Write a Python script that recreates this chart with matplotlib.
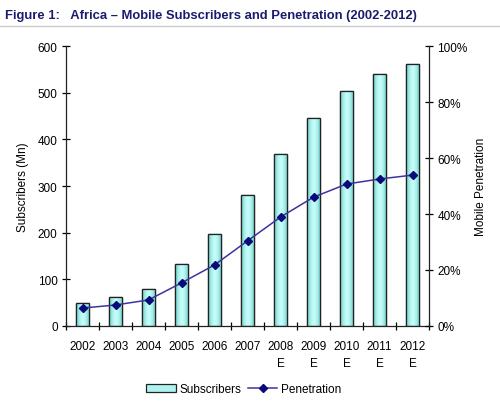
import matplotlib
matplotlib.use("Agg")
import matplotlib.pyplot as plt
import numpy as np
from matplotlib.lines import Line2D
from matplotlib.patches import Rectangle
from matplotlib.colors import LinearSegmentedColormap

plt.rcParams['font.family'] = ['Liberation Sans', 'DejaVu Sans']

years = ['2002', '2003', '2004', '2005', '2006', '2007', '2008\nE', '2009\nE', '2010\nE', '2011\nE', '2012\nE']
subscribers = [49, 62, 79, 133, 197, 281, 368, 445, 503, 540, 561]
penetration = [6.4, 7.5, 9.3, 15.4, 21.8, 30.4, 38.9, 46.0, 50.7, 52.5, 53.9]
left_ticks = [0, 100, 200, 300, 400, 500, 600]
right_ticks = [0, 20, 40, 60, 80, 100]

fig = plt.figure(figsize=(5.0, 4.02), dpi=100)
ax = fig.add_axes([0.132, 0.1866, 0.726, 0.6964])
ax2 = ax.twinx()

x = np.arange(len(years))
bw = 0.42
bars = ax.bar(x, subscribers, width=bw, color='#aef3ef', edgecolor='#222222', linewidth=0.9, zorder=2)
grad = np.array([[0.0, 0.55, 0.85, 1.0, 0.85, 0.55, 0.0]])
cmap = LinearSegmentedColormap.from_list('c', ['#72cfc9', '#c8fffb'])
for b in bars:
    im = ax.imshow(grad, cmap=cmap, aspect='auto', zorder=2,
                   extent=[b.get_x(), b.get_x() + b.get_width(), 0, b.get_height()],
                   interpolation='bicubic')
    im.set_clip_path(b)
for b in bars:
    r = Rectangle((b.get_x(), 0), b.get_width(), b.get_height(), fill=False,
                  edgecolor='#222222', linewidth=0.9, zorder=3)
    ax.add_patch(r)

ax.set_xlim(-0.5, len(years) - 0.5)
ax.set_ylim(0, 600)
ax.set_yticks(left_ticks)
ax.set_yticklabels([str(v) for v in left_ticks])
ax.set_xticks(x)
ax.set_xticklabels(years, fontsize=8.5, linespacing=1.55)
ax.set_xticks(np.arange(-0.5, len(years), 1.0), minor=True)
ax.tick_params(axis='x', which='major', length=0, pad=10)
ax.tick_params(axis='x', which='minor', length=6, direction='inout', width=0.9)
ax.tick_params(axis='y', length=6, direction='inout', width=0.9, labelsize=8.5, pad=3)
ax.set_ylabel('Subscribers (Mn)', fontsize=8.5, labelpad=6)

ax2.plot(x, penetration, color='#3a34a0', linewidth=1.1, marker='D', markersize=4.5,
         markerfacecolor='#0a0a7a', markeredgecolor='#0a0a7a', zorder=5)
ax2.set_ylim(0, 100)
ax2.set_yticks(right_ticks)
ax2.set_yticklabels([f'{v}%' for v in right_ticks])
ax2.tick_params(axis='y', length=6, direction='inout', width=0.9, labelsize=8.5, pad=3)
ax2.set_ylabel('Mobile Penetration', fontsize=8.5, labelpad=5)

for a in (ax, ax2):
    a.spines['top'].set_visible(False)
    a.set_facecolor('none')
ax.spines['right'].set_visible(False)
ax2.spines['left'].set_visible(False)
ax2.spines['bottom'].set_visible(False)
for s in ['left', 'bottom']:
    ax.spines[s].set_color('#222222')
    ax.spines[s].set_linewidth(0.9)
ax2.spines['right'].set_color('#222222')
ax2.spines['right'].set_linewidth(0.9)

ax.set_zorder(1)
ax2.set_zorder(2)

h1 = Rectangle((0, 0), 1, 1, facecolor='#aef3ef', edgecolor='#222222', linewidth=0.9)
h2 = Line2D([], [], color='#3a34a0', linewidth=1.1, marker='D', markersize=4,
            markerfacecolor='#0a0a7a', markeredgecolor='#0a0a7a')
fig.legend([h1, h2], ['Subscribers', 'Penetration'], loc='center', bbox_to_anchor=(0.488, 0.03),
           ncol=2, frameon=False, fontsize=8.5, handlelength=2.5, handletextpad=0.35,
           columnspacing=0.5, handleheight=0.6)

fig.text(0.01, 0.96, 'Figure 1:   Africa \u2013 Mobile Subscribers and Penetration (2002-2012)',
         fontsize=9.4, fontweight='bold', color='#1c1c6e', va='center', ha='left')
fig.add_artist(Line2D([0.0, 1.0], [0.933, 0.933], color='#cccccc', linewidth=1.0))

fig.savefig('out.png', dpi=100)
